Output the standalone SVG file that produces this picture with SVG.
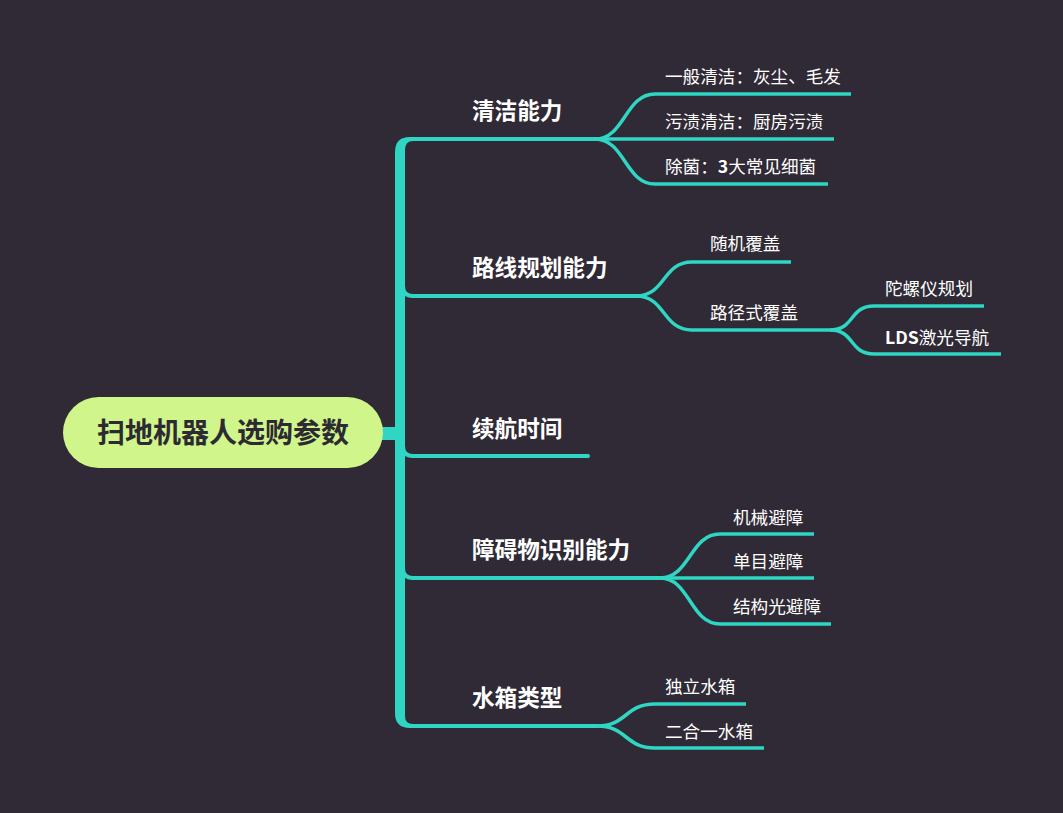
<svg xmlns="http://www.w3.org/2000/svg" width="1063" height="813" viewBox="0 0 1063 813">
<style>
.bg{fill:#2f2a35}
.br{fill:none;stroke:#2fd6c3;stroke-width:4;stroke-linecap:round}
.ch{fill:none;stroke:#2fd6c3;stroke-width:3.5;stroke-linecap:butt}
.t1{font-family:"Noto Sans CJK SC","Noto Sans",sans-serif;font-size:22.6px;font-weight:bold;fill:#ffffff}
.t2{font-family:"Noto Sans CJK SC","Noto Sans",sans-serif;font-size:17.6px;fill:#ffffff}
.rt{font-family:"Noto Sans CJK SC","Noto Sans",sans-serif;font-size:28px;font-weight:bold;fill:#2d2a33}
</style>
<rect class="bg" x="0" y="0" width="1063" height="813"/>
<g id="connectors">
  <rect x="381" y="427" width="16" height="13" fill="#2fd6c3"/>
  <path d="M395,152 Q395,137 410,137 L446,137 L446,141 L413,141 Q405,141 405,150 L405,716 Q405,724 413,724 L446,724 L446,728 L410,728 Q395,728 395,713 Z" fill="#2fd6c3"/>
  <path class="br" d="M413,139 L595,139"/>
  <path class="br" d="M403,286 Q403,296 413,296 L636,296"/>
  <path class="br" d="M403,446 Q403,456 413,456 L588,456"/>
  <path class="br" d="M403,568 Q403,578 413,578 L660,578"/>
  <path class="br" d="M440,726 L597,726"/>
  <path class="ch" d="M595,139 C625,139 625,94 655,94 L851,94"/>
  <path class="ch" d="M595,139 L834,139"/>
  <path class="ch" d="M595,139 C625,139 625,184 655,184 L828,184"/>
  <path class="ch" d="M636,296 C666,296 662,262 692,262 L791,262"/>
  <path class="ch" d="M636,296 C666,296 662,330 692,330 L830,330"/>
  <path class="ch" d="M830,330 C855,330 849,306 874,306 L984,306"/>
  <path class="ch" d="M830,330 C855,330 849,354 874,354 L1001,354"/>
  <path class="ch" d="M660,578 C690,578 690,534 720,534 L814,534"/>
  <path class="ch" d="M660,578 L814,578"/>
  <path class="ch" d="M660,578 C690,578 690,624 720,624 L831,624"/>
  <path class="ch" d="M597,726 C627,726 625,704 655,704 L746,704"/>
  <path class="ch" d="M597,726 C627,726 625,748 655,748 L764,748"/>
</g>
<g id="root">
  <rect x="63" y="397" width="320" height="71" rx="35.5" fill="#cff58b"/>
  <text class="rt" x="223" y="443" text-anchor="middle">扫地机器人选购参数</text>
</g>
<g id="n-clean"><text class="t1" x="472" y="119">清洁能力</text></g>
<g id="n-clean-1"><text class="t2" x="665" y="83">一般清洁：灰尘、毛发</text></g>
<g id="n-clean-2"><text class="t2" x="665" y="128">污渍清洁：厨房污渍</text></g>
<g id="n-clean-3"><text class="t2" x="665" y="173">除菌：<tspan font-weight="bold">3</tspan>大常见细菌</text></g>
<g id="n-route"><text class="t1" x="472" y="276">路线规划能力</text></g>
<g id="n-route-1"><text class="t2" x="710" y="250">随机覆盖</text></g>
<g id="n-route-2"><text class="t2" x="710" y="319">路径式覆盖</text></g>
<g id="n-route-2-1"><text class="t2" x="885" y="295">陀螺仪规划</text></g>
<g id="n-route-2-2"><text class="t2" x="885" y="344"><tspan font-weight="bold">LDS</tspan>激光导航</text></g>
<g id="n-battery"><text class="t1" x="472" y="437">续航时间</text></g>
<g id="n-obstacle"><text class="t1" x="472" y="558">障碍物识别能力</text></g>
<g id="n-obstacle-1"><text class="t2" x="733" y="524">机械避障</text></g>
<g id="n-obstacle-2"><text class="t2" x="733" y="568">单目避障</text></g>
<g id="n-obstacle-3"><text class="t2" x="733" y="613">结构光避障</text></g>
<g id="n-tank"><text class="t1" x="472" y="706">水箱类型</text></g>
<g id="n-tank-1"><text class="t2" x="665" y="693">独立水箱</text></g>
<g id="n-tank-2"><text class="t2" x="665" y="738">二合一水箱</text></g>
</svg>
